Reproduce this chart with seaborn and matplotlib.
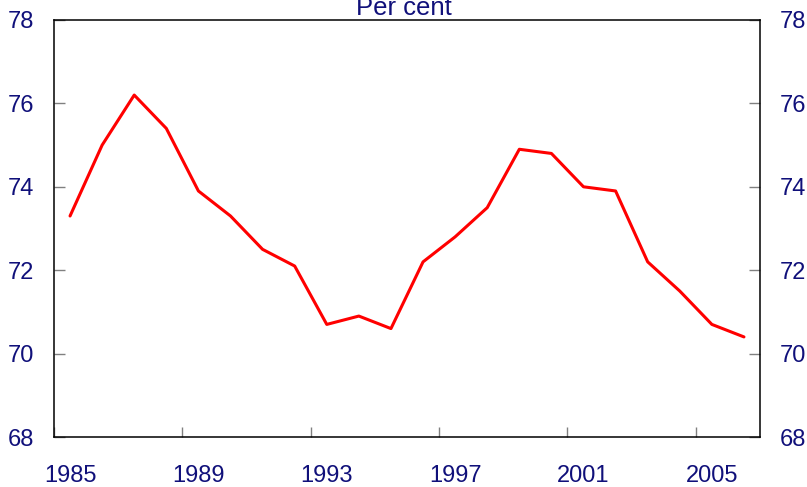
import numpy as np
import pandas as pd
import matplotlib
matplotlib.use('Agg')
import matplotlib.pyplot as plt
import seaborn as sns
from matplotlib.ticker import FixedLocator, NullFormatter, FixedFormatter

# Datos (año, porcentaje)
years = list(range(1985, 2007))
values = [73.3, 75.0, 76.2, 75.4, 73.9, 73.3, 72.5, 72.1, 70.7, 70.9, 70.6,
          72.2, 72.8, 73.5, 74.9, 74.8, 74.0, 73.9, 72.2, 71.5, 70.7, 70.4]
tick_years = [1985, 1989, 1993, 1997, 2001, 2005]
y_ticks = [68, 70, 72, 74, 76, 78]

navy = '#10107a'

sns.set_style('white')
plt.rcParams['font.family'] = ['Liberation Sans', 'DejaVu Sans']

df = pd.DataFrame({'year': np.array(years) + 0.5, 'value': values})

fig = plt.figure(figsize=(8.07, 4.87), dpi=100)
ax = fig.add_axes([54 / 807, 50 / 487, 706 / 807, 417 / 487])

sns.lineplot(data=df, x='year', y='value', color='#ff0000', linewidth=2.2, ax=ax)

ax.set_xlim(1985, 2007)
ax.set_ylim(68, 78)
ax.set_xlabel('')
ax.set_ylabel('')

# Eje x: marcas en los límites de año, etiquetas a mitad de año
ax.xaxis.set_major_locator(FixedLocator(tick_years))
ax.xaxis.set_major_formatter(NullFormatter())
ax.xaxis.set_minor_locator(FixedLocator([y + 0.5 for y in tick_years]))
ax.xaxis.set_minor_formatter(FixedFormatter([str(y) for y in tick_years]))
ax.tick_params(axis='x', which='major', direction='in', length=7, width=1,
               color='#808080', bottom=True, top=False)
ax.tick_params(axis='x', which='minor', length=0, pad=20, labelsize=17,
               labelcolor=navy)

ax.set_yticks(y_ticks)
ax.tick_params(axis='y', direction='in', length=8, width=1, color='#808080',
               left=True, right=True, labelleft=True, labelright=True,
               labelsize=17, labelcolor=navy, pad=14)

for s in ax.spines.values():
    s.set_visible(True)
    s.set_color('black')
    s.set_linewidth(1.1)

ax.text(0.495, 1.012, 'Per cent', transform=ax.transAxes, ha='center',
        va='baseline', fontsize=18.5, color=navy)

fig.savefig('out.png', dpi=100)
